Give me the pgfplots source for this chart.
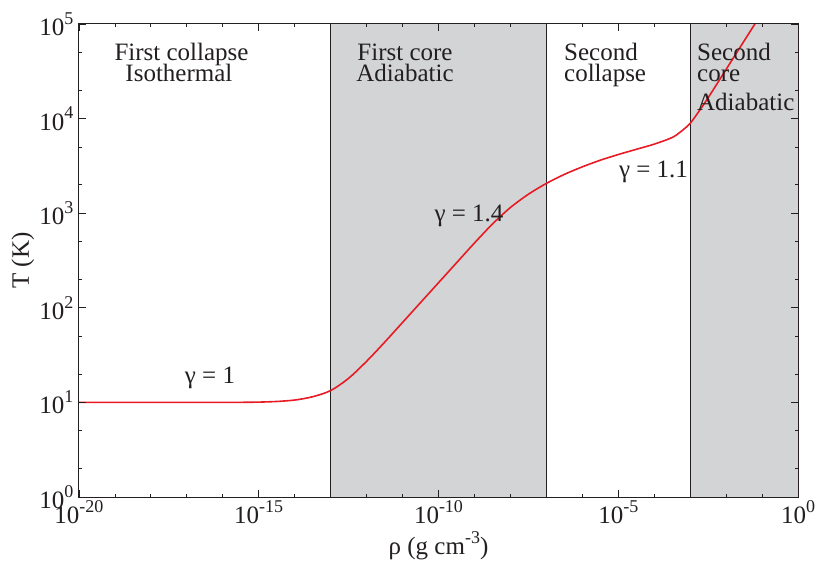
\documentclass[border=0pt]{standalone}
\usepackage{fontspec}
\setmainfont{Liberation Serif}
\usepackage{pgfplots}
\pgfplotsset{compat=1.18}
\definecolor{shade}{RGB}{211,212,214}
\definecolor{curvered}{RGB}{232,27,36}
\definecolor{ink}{RGB}{35,31,32}
\newcommand{\tl}[1]{10\raisebox{0.45em}{\fontsize{18}{18}\selectfont #1}}
\newcommand{\chartfont}{\fontsize{25}{28}\selectfont}
\begin{document}
\begin{tikzpicture}
\useasboundingbox (0,0) rectangle (818pt,565pt);
\begin{axis}[
  at={(79pt,68pt)}, anchor=south west,
  width=719pt, height=473pt, scale only axis,
  xmode=log, ymode=log,
  xmin=1e-20, xmax=1, ymin=1, ymax=1e5,
  xtick={1e-20,1e-15,1e-10,1e-5,1},
  xticklabels={\tl{-20},\tl{-15},\tl{-10},\tl{-5},\tl{0}},
  minor xtick={1e-19,1e-18,1e-17,1e-16,1e-14,1e-13,1e-12,1e-11,1e-9,1e-8,1e-7,1e-6,1e-4,1e-3,1e-2,1e-1},
  ytick={1,10,100,1000,10000,100000},
  yticklabels={\tl{0},\tl{1},\tl{2},\tl{3},\tl{4},\tl{5}},
  minor ytick={2,5,20,50,200,500,2000,5000,20000,50000},
  tick align=inside,
  major tick length=7pt, minor tick length=3.5pt,
  tick style={ink, line width=0.8pt},
  axis line style={ink, line width=1pt},
  ticklabel style={font=\chartfont, text=ink},
  yticklabel style={xshift=-2pt},
  xlabel={ρ (g cm\raisebox{0.45em}{\fontsize{18}{18}\selectfont -3})},
  ylabel={T (K)},
  label style={font=\chartfont, text=ink},
  xlabel style={at={(axis description cs:0.5,-0.1226)}, anchor=base},
  ylabel style={at={(axis description cs:-0.0779,0.5)}, anchor=center},
  axis on top,
]
\addplot[fill=shade, draw=none] coordinates {(1e-13,1) (1e-7,1) (1e-7,1e5) (1e-13,1e5)} \closedcycle;
\addplot[fill=shade, draw=none] coordinates {(1e-3,1) (1,1) (1,1e5) (1e-3,1e5)} \closedcycle;
\addplot[ink, line width=0.9pt] coordinates {(1e-13,1) (1e-13,1e5)};
\addplot[ink, line width=0.9pt] coordinates {(1e-7,1) (1e-7,1e5)};
\addplot[ink, line width=0.9pt] coordinates {(1e-3,1) (1e-3,1e5)};
\addplot[curvered, line width=1.6pt, smooth, tension=0.5] coordinates {
(1e-20,10) (1e-18,10) (1e-16,10) (3.16e-16,10.02) (1e-15,10.07) (3.16e-15,10.23)
(1e-14,10.59) (3.16e-14,11.48) (1e-13,13.34) (3.16e-13,17.99) (1e-12,27.2)
(3.16e-12,43.2) (1e-11,70.0) (3.16e-11,113.5) (1e-10,184.1) (3.16e-10,298.5)
(1e-9,484.2) (3.16e-9,767.4) (1e-8,1148) (3.16e-8,1585) (1e-7,2065)
(3.16e-7,2570) (1e-6,3090) (3.16e-6,3631) (1e-5,4169) (3.16e-5,4732)
(1e-4,5370) (3.16e-4,6310) (5.62e-4,7328) (1e-3,8913) (1.78e-3,12023)
(3.16e-3,16596) (1e-2,33113) (3.16e-2,66069) (1e-1,131826)};
\begin{scope}[every node/.style={font=\chartfont, text=ink, inner sep=0pt}]
\node[anchor=base] at (rel axis cs:0.1426,0.9218) {First collapse};
\node[anchor=base] at (rel axis cs:0.139,0.8774) {Isothermal};
\node[anchor=base] at (rel axis cs:0.4534,0.9218) {First core};
\node[anchor=base] at (rel axis cs:0.4534,0.8774) {Adiabatic};
\node[anchor=base west] at (rel axis cs:0.6745,0.9218) {Second};
\node[anchor=base west] at (rel axis cs:0.6745,0.8774) {collapse};
\node[anchor=base west] at (rel axis cs:0.8595,0.9218) {Second};
\node[anchor=base west] at (rel axis cs:0.8595,0.8774) {core};
\node[anchor=base west] at (rel axis cs:0.8595,0.818) {Adiabatic};
\node[anchor=base] at (rel axis cs:0.1822,0.2410) {γ = 1};
\node[anchor=base] at (rel axis cs:0.5424,0.5821) {γ = 1.4};
\node[anchor=base] at (rel axis cs:0.7990,0.6765) {γ = 1.1};
\end{scope}
\end{axis}
\end{tikzpicture}
\end{document}
